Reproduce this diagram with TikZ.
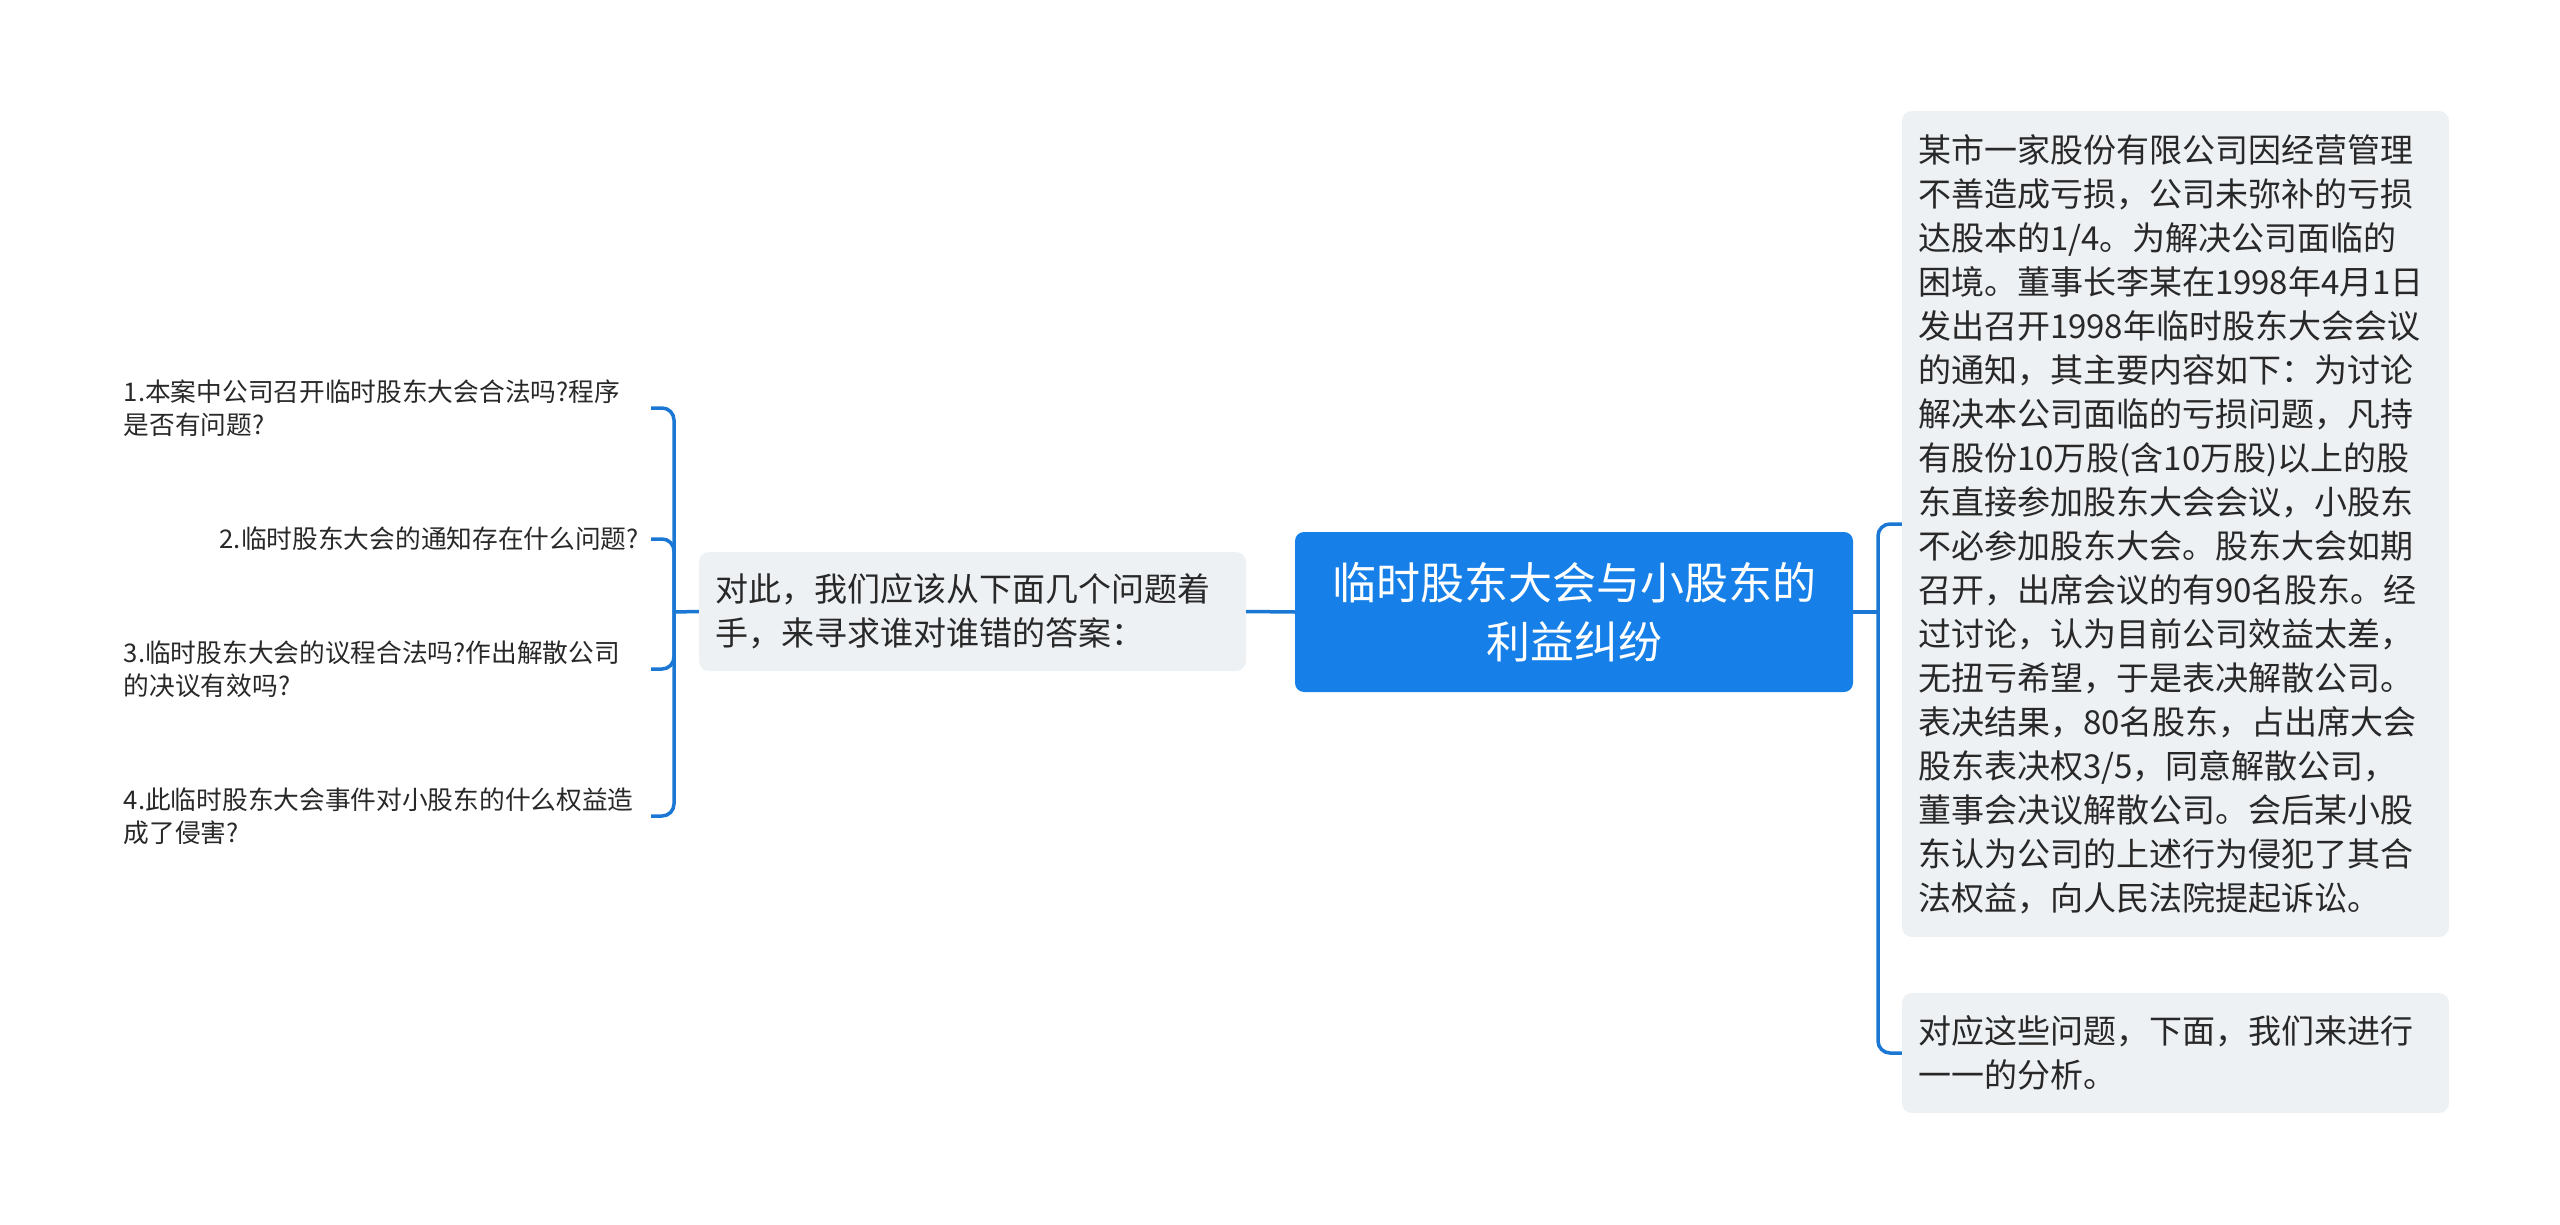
\documentclass[tikz,border=0pt]{standalone}
\usepackage{fontspec}
\setmainfont{Noto Sans CJK SC}
\definecolor{cblue}{RGB}{22,128,232}
\definecolor{lblue}{RGB}{26,120,212}
\definecolor{gbox}{RGB}{238,241,244}
\definecolor{tdark}{RGB}{40,40,40}
\begin{document}
\begin{tikzpicture}[x=1pt,y=-1pt,
  centerbox/.style={fill=cblue,rounded corners=9pt,minimum width=558pt,minimum height=160pt,
    text=white,align=center,inner sep=0pt,font=\fontsize{44}{59}\selectfont},
  graybox/.style={fill=gbox,rounded corners=10pt,text width=515pt,inner xsep=16pt,inner ysep=0pt,
    align=left,text=tdark,font=\fontsize{33}{44}\selectfont},
  leaf/.style={text width=515pt,inner xsep=12pt,inner ysep=4pt,text=tdark,
    font=\fontsize{25.7}{32.5}\selectfont},
  conn/.style={draw=lblue,line width=3.5pt,rounded corners=12pt}]
\useasboundingbox (0,0) rectangle (2560,1225);
\node[centerbox] (c) at (1574,612) {临时股东大会与小股东的\\利益纠纷};
\node[graybox,minimum height=119pt] (m) at (972.5,611.5) {对此，我们应该从下面几个问题着\\手，来寻求谁对谁错的答案：};
\node[graybox,minimum height=826pt] (r1) at (2175.5,524) {某市一家股份有限公司因经营管理\\不善造成亏损，公司未弥补的亏损\\达股本的1/4。为解决公司面临的\\困境。董事长李某在1998年4月1日\\发出召开1998年临时股东大会会议\\的通知，其主要内容如下：为讨论\\解决本公司面临的亏损问题，凡持\\有股份10万股(含10万股)以上的股\\东直接参加股东大会会议，小股东\\不必参加股东大会。股东大会如期\\召开，出席会议的有90名股东。经\\过讨论，认为目前公司效益太差，\\无扭亏希望，于是表决解散公司。\\表决结果，80名股东，占出席大会\\股东表决权3/5，同意解散公司，\\董事会决议解散公司。会后某小股\\东认为公司的上述行为侵犯了其合\\法权益，向人民法院提起诉讼。};
\node[graybox,minimum height=120pt] (r2) at (2175.5,1053) {对应这些问题，下面，我们来进行\\一一的分析。};
\node[leaf,align=left,anchor=east] (l1) at (651,408) {1.本案中公司召开临时股东大会合法吗?程序\\是否有问题?};
\node[leaf,align=right,anchor=east] (l2) at (651,539) {2.临时股东大会的通知存在什么问题?};
\node[leaf,align=left,anchor=east] (l3) at (651,669) {3.临时股东大会的议程合法吗?作出解散公司\\的决议有效吗?};
\node[leaf,align=left,anchor=east] (l4) at (651,816) {4.此临时股东大会事件对小股东的什么权益造\\成了侵害?};
\coordinate (rj) at (1878,612);
\coordinate (lj) at (674,612);
\draw[conn] (c.east) -- (rj);
\draw[conn] (rj) |- (r1.west);
\draw[conn] (rj) |- (r2.west);
\draw[conn] (c.west) -- (m.east);
\draw[conn] (m.west) -- (lj);
\draw[conn] (lj) |- (l1.east);
\draw[conn] (lj) |- (l2.east);
\draw[conn] (lj) |- (l3.east);
\draw[conn] (lj) |- (l4.east);
\end{tikzpicture}
\end{document}
